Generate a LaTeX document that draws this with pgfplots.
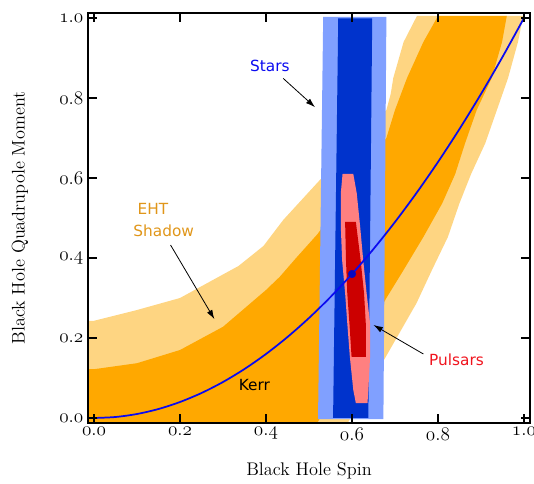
\documentclass[border=0pt]{standalone}
\usepackage{fontspec}
\usepackage{pgfplots}
\pgfplotsset{compat=1.18}
\usetikzlibrary{arrows.meta}
\newfontfamily\annfont{DejaVu Sans}
\definecolor{ehtlight}{RGB}{254,213,130}
\definecolor{ehtdark}{RGB}{255,168,0}
\definecolor{ehttext}{RGB}{224,150,26}
\definecolor{starlight}{RGB}{128,160,255}
\definecolor{stardark}{RGB}{0,51,204}
\definecolor{pulsarlight}{RGB}{255,128,128}
\definecolor{pulsardark}{RGB}{204,0,0}
\definecolor{pulsartext}{RGB}{240,20,30}
\definecolor{kerrblue}{RGB}{10,10,240}

\begin{document}
\begin{tikzpicture}
  \begin{axis}[
      scale only axis,
      width=331.5pt, height=307.5pt,
      xmin=-0.014, xmax=1.014,
      ymin=-0.0125, ymax=1.0125,
      axis on top,
      axis line style={line width=1pt},
      major tick style={line width=1pt, black},
      major tick length=7pt,
      tick align=inside,
      tick pos=both,
      xtick={0,0.2,0.4,0.6,0.8,1.0},
      ytick={0,0.2,0.4,0.6,0.8,1.0},
      every tick label/.append style={font=\fontsize{14.4}{17}\selectfont},
      xticklabel={$\mathnormal{\pgfmathprintnumber[fixed,fixed zerofill,precision=1]{\tick}}$},
      yticklabel={$\mathnormal{\pgfmathprintnumber[fixed,fixed zerofill,precision=1]{\tick}}$},
      xlabel={Black Hole Spin},
      ylabel={Black Hole Quadrupole Moment},
      label style={font=\fontsize{13.7}{16}\selectfont},
      xlabel style={at={(axis description cs:0.5,-0.117)}, anchor=center},
      ylabel style={at={(axis description cs:-0.154,0.5)}, anchor=center},
    ]

    % EHT shadow, outer band
    \addplot[fill=ehtlight, draw=none] coordinates {
        (-0.05,-0.05) (-0.05,0.243) (0,0.243) (0.1,0.27) (0.2,0.30)
        (0.29,0.353) (0.336,0.38) (0.394,0.43) (0.44,0.495) (0.521,0.59)
        (0.68,0.77) (0.69,0.81) (0.696,0.85) (0.72,0.94) (0.751,1.005)
        (0.998,1.005) (0.986,0.94) (0.963,0.85) (0.937,0.77) (0.91,0.687)
        (0.877,0.61) (0.85,0.537) (0.823,0.4525) (0.786,0.37) (0.75,0.287)
        (0.705,0.2025) (0.677,0.15) (0.57,-0.05)
      } -- cycle;

    % EHT shadow, inner band
    \addplot[fill=ehtdark, draw=none] coordinates {
        (-0.05,-0.05) (-0.05,0.122) (0,0.122) (0.1,0.137) (0.2,0.17)
        (0.3,0.228) (0.4,0.32) (0.432,0.353) (0.47,0.40) (0.52,0.46)
        (0.68,0.70) (0.70,0.77) (0.728,0.85) (0.766,0.94) (0.80,1.005)
        (0.96,1.005) (0.949,0.94) (0.925,0.85) (0.89,0.77) (0.863,0.687)
        (0.84,0.61) (0.81,0.537) (0.766,0.4525) (0.72,0.37) (0.68,0.30)
        (0.50,-0.05)
      } -- cycle;

    % Stars
    \addplot[fill=starlight, draw=none] coordinates {
        (0.521,-0.003) (0.673,-0.003) (0.680,1.003) (0.533,1.003)
      } -- cycle;
    \addplot[fill=stardark, draw=none] coordinates {
        (0.556,0.0) (0.638,0.0) (0.647,0.999) (0.568,0.999)
      } -- cycle;

    % Pulsars
    \addplot[fill=pulsarlight, draw=none] coordinates {
        (0.578,0.61) (0.603,0.61) (0.611,0.562) (0.619,0.478) (0.626,0.395)
        (0.634,0.312) (0.642,0.237) (0.642,0.153) (0.638,0.07) (0.636,0.037)
        (0.609,0.037) (0.603,0.07) (0.595,0.153) (0.589,0.237) (0.584,0.312)
        (0.577,0.395) (0.574,0.478) (0.574,0.562)
      } -- cycle;
    \addplot[fill=pulsardark, draw=none] coordinates {
        (0.584,0.49) (0.609,0.49) (0.62,0.395) (0.628,0.312) (0.632,0.237)
        (0.632,0.153) (0.599,0.153) (0.594,0.237) (0.589,0.312) (0.586,0.395)
      } -- cycle;

    % Kerr relation
    \addplot[kerrblue, line width=1.3pt, smooth] coordinates {
        (0,0) (0.05,0.0025) (0.1,0.01) (0.15,0.0225) (0.2,0.04)
        (0.25,0.0625) (0.3,0.09) (0.35,0.1225) (0.4,0.16) (0.45,0.2025)
        (0.5,0.25) (0.55,0.3025) (0.6,0.36) (0.65,0.4225) (0.7,0.49)
        (0.75,0.5625) (0.8,0.64) (0.85,0.7225) (0.9,0.81) (0.95,0.9025)
        (1,1)
      };
    \addplot[only marks, mark=*, mark size=2.8pt, kerrblue!80!black] coordinates {(0.6,0.36)};

    % labels
    \node[text=kerrblue, font=\annfont\fontsize{11.5}{13}\selectfont] at (axis cs:0.409,0.881) {Stars};
    \draw[line width=0.6pt, -{Latex[length=7pt,width=4.5pt]}] (axis cs:0.44,0.849) -- (axis cs:0.514,0.777);

    \node[text=ehttext, font=\annfont\fontsize{11.5}{13}\selectfont] at (axis cs:0.137,0.5225) {EHT};
    \node[text=ehttext, font=\annfont\fontsize{11.5}{13}\selectfont] at (axis cs:0.162,0.469) {Shadow};
    \draw[line width=0.6pt, -{Latex[length=7pt,width=4.5pt]}] (axis cs:0.178,0.4325) -- (axis cs:0.28,0.247);

    \node[text=black, font=\annfont\fontsize{11.5}{13}\selectfont] at (axis cs:0.373,0.0825) {Kerr};

    \node[text=pulsartext, font=\annfont\fontsize{11.5}{13}\selectfont] at (axis cs:0.843,0.145) {Pulsars};
    \draw[line width=0.6pt, -{Latex[length=7pt,width=4.5pt]}] (axis cs:0.766,0.16) -- (axis cs:0.65,0.2325);
  \end{axis}
  \pgfresetboundingbox
  \path[use as bounding box] (-66pt,-45.75pt) rectangle (334.5pt,317.25pt);
\end{tikzpicture}
\end{document}
